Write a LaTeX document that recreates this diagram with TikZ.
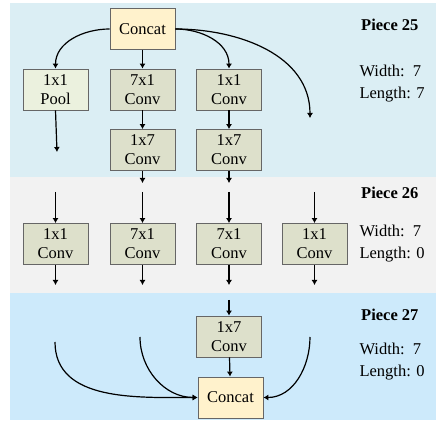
\documentclass[tikz,border=0pt]{standalone}
\usepackage{fontspec}
\setmainfont{Liberation Serif}
\usetikzlibrary{arrows.meta,positioning}
\definecolor{bandtop}{RGB}{219,238,244}
\definecolor{bandmid}{RGB}{242,242,242}
\definecolor{bandbot}{RGB}{205,234,251}
\definecolor{poolfill}{RGB}{235,241,222}
\definecolor{convfill}{RGB}{221,224,203}
\definecolor{catfill}{RGB}{255,242,204}

\begin{document}
\begin{tikzpicture}[x=1pt, y=1pt,
    box/.style={rectangle, draw=gray!80!black, line width=0.8pt, minimum width=65pt,
                minimum height=41pt, align=center, inner sep=1pt,
                font=\fontsize{16.5}{19}\selectfont},
    pool/.style={box, fill=poolfill},
    conv/.style={box, fill=convfill},
    concat/.style={box, fill=catfill},
    arrow/.style={-{Latex[length=5pt,width=6pt]}, line width=1.2pt},
    piece/.style={anchor=east, font=\fontsize{16.5}{19}\selectfont\bfseries},
    info/.style={anchor=west, align=left, font=\fontsize{16.5}{22}\selectfont}
  ]
  \useasboundingbox (0,0) rectangle (448,-438);
  % bands
  \fill[bandtop] (10,-3) rectangle (436,-177);
  \fill[bandmid] (10,-177) rectangle (436,-293);
  \fill[bandbot] (10,-293) rectangle (436,-420);

  % piece 25
  \node[concat] (cat1) at (142.5,-29) {Concat};
  \node[pool] (pool) at (55.5,-89.5) {1x1\\Pool};
  \node[conv] (c71a) at (142.5,-89.5) {7x1\\Conv};
  \node[conv] (c11a) at (229,-89.5) {1x1\\Conv};
  \node[conv] (c17a) at (142.5,-150) {1x7\\Conv};
  \node[conv] (c17b) at (229,-150) {1x7\\Conv};
  \coordinate (skip) at (310,-118);
  \coordinate (pd) at (57,-152);
  \coordinate (ad) at (142.5,-183);
  \coordinate (bd) at (229,-183);

  \draw[arrow] (cat1.west) to[out=180, in=90] (pool.north);
  \draw[arrow] (cat1) -- (c71a);
  \draw[arrow] (cat1.east) to[out=0, in=90] (c11a.north);
  \draw[arrow] (cat1.east) to[out=0, in=90] (skip);
  \draw[arrow] (pool.south) -- (pd);
  \draw[arrow] (c71a) -- (c17a);
  \draw[arrow] (c11a) -- (c17b);
  \draw[arrow] (c17a.south) -- (ad);
  \draw[arrow] (c17b.south) -- (bd);

  % piece 26
  \node[conv] (p1) at (55.5,-244) {1x1\\Conv};
  \node[conv] (p2) at (142.5,-244) {7x1\\Conv};
  \node[conv] (p3) at (229,-244) {7x1\\Conv};
  \node[conv] (p4) at (314.5,-244) {1x1\\Conv};
  \foreach \i/\x in {1/55.5, 2/142.5, 3/229, 4/314.5} {
    \coordinate (in\i) at (\x,-192);
    \coordinate (out\i) at (\x,-285);
    \draw[arrow] (in\i) -- (p\i.north);
    \draw[arrow] (p\i.south) -- (out\i);
  }

  % piece 27
  \node[conv] (c17c) at (229,-336.5) {1x7\\Conv};
  \node[concat] (cat2) at (230.5,-397.5) {Concat};
  \coordinate (in5) at (229,-300);
  \coordinate (s1) at (55,-342);
  \coordinate (s2) at (140,-337);
  \coordinate (s3) at (310,-337);
  \draw[arrow] (in5) -- (c17c);
  \draw[arrow] (c17c) -- (cat2);
  \draw[arrow] (s1) to[out=-90, in=180] (cat2.west);
  \draw[arrow] (s2) to[out=-90, in=180] (cat2.west);
  \draw[arrow] (s3) to[out=-90, in=0] (cat2.east);

  % labels
  \node[piece] (lab25) at (422,-25) {Piece 25};
  \node[info] (dim25) at (356,-84) {Width:\ \ 7\\Length: 7};
  \node[piece] (lab26) at (422,-193) {Piece 26};
  \node[info] (dim26) at (356,-244) {Width:\ \ 7\\Length: 0};
  \node[piece] (lab27) at (422,-315) {Piece 27};
  \node[info] (dim27) at (356,-362) {Width:\ \ 7\\Length: 0};
\end{tikzpicture}
\end{document}
